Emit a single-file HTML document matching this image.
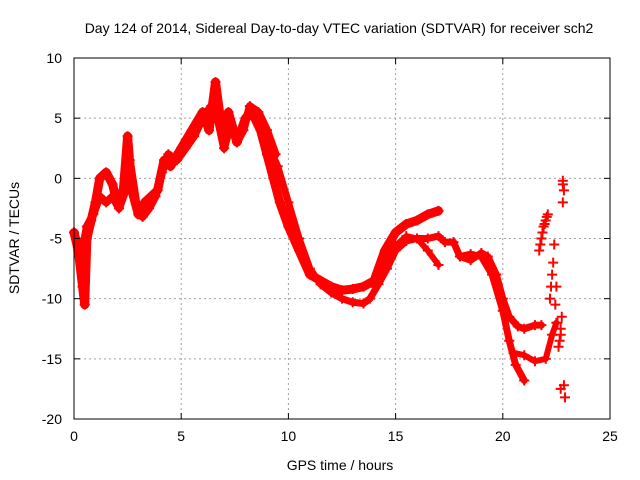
<!DOCTYPE html>
<html><head><meta charset="utf-8"><style>
body{margin:0;background:#fff}
svg{display:block;font-family:"Liberation Sans",sans-serif}
</style></head><body>
<svg id="chart" width="640" height="480" viewBox="0 0 640 480">
<rect width="640" height="480" fill="#fff"/>
<text x="339" y="33" font-size="14" text-anchor="middle">Day 124 of 2014, Sidereal Day-to-day VTEC variation (SDTVAR) for receiver sch2</text>
<text x="340" y="470" font-size="14" text-anchor="middle">GPS time / hours</text>
<text transform="translate(19,238) rotate(-90)" font-size="14" text-anchor="middle">SDTVAR / TECUs</text>
<g id="grid"></g>
<g id="marks"></g>
<rect x="74" y="58" width="536" height="361" fill="none" stroke="#000" stroke-width="1"/>
<g id="ticks"></g>
</svg>
<script>
const xTicks=[0,5,10,15,20,25];
const yTicks=[10,5,0,-5,-10,-15,-20];
const trackA_x=[0,0.2,0.4,0.5,0.6,0.8,1.0,1.2,1.5,1.8,2.0,2.3,2.5,2.7,3.0,3.3,3.6,3.9,4.2,4.5,5.0,5.5,6.0,6.3,6.6,6.9,7.2,7.6,8.0,8.3,8.7,9.0,9.3,9.6,10.0,10.5,11.0,11.5,12,12.5,13,13.5,14,14.5,15,15.5,16,16.5,17];
const trackA_y=[-4.5,-6,-9,-10.5,-5,-3.5,-2,0,0.5,-0.5,-2,-1,3.5,-1,-3,-2,-1.5,-1,1.5,1,2.5,4,5.5,4,8,4,5.5,3,5,5.5,4,2,0,-2,-4,-6,-8,-8.5,-9,-9.3,-9.2,-9,-8.5,-6,-4.5,-3.8,-3.5,-3,-2.7];
const trackF_x=[0.1,0.3,0.6,0.9,1.2,1.5,1.8,2.1,2.4,2.6,2.9,3.2,3.5,3.8,4.1,4.4,4.8,5.2,5.6,6.0,6.4,6.7,7.0,7.3,7.6,7.9,8.2,8.6,9.0,9.4];
const trackF_y=[-5,-7,-4,-3,-1.5,-2,-1.5,-2.5,-1,1.5,-2,-3.2,-2.5,-1.5,0.5,2,1.5,2.5,3.5,5,6,5,2.5,4.5,3,4,6,5.5,4,2];
const trackB_x=[8.5,9,9.5,10,10.5,11,11.5,12,12.5,13,13.5,13.8,14.2,14.6,15,15.5,16,16.5,17,17.3,17.7,18,18.5,19,19.3,19.7,20,20.3,20.7,21,21.5,21.8];
const trackB_y=[5,3,1,-2,-5,-7.5,-8.8,-9.5,-10,-10.3,-10.4,-10,-8.8,-7.5,-6,-5.2,-5,-5,-4.8,-5.3,-5.3,-6.5,-6.8,-6.2,-6.5,-8,-10,-11.5,-12.3,-12.5,-12.2,-12.2];
const trackC_x=[14,14.5,15,15.5,16,16.5,17];
const trackC_y=[-9,-7.2,-5.6,-4.8,-5,-6,-7.2];
const trackD_x=[18,18.5,19,19.5,20,20.3,20.6,21];
const trackD_y=[-6.5,-6.3,-6.5,-8,-11,-13.5,-15.5,-16.8];
const trackE_x=[20.5,21,21.5,22,22.3,22.5];
const trackE_y=[-14.5,-14.7,-15.2,-15,-13,-12];
const sparse_x=[21.7,21.75,21.8,21.85,21.9,21.95,22.0,22.05,22.1,22.2,22.25,22.3,22.35,22.4,22.45,22.5,22.55,22.6,22.65,22.7,22.7,22.75,22.8,22.8,22.85,22.8,22.9,22.85,22.7];
const sparse_y=[-6,-5.5,-5,-4.5,-4,-3.8,-3.5,-3.2,-3,-10,-9,-8,-7,-5.5,-10.5,-9,-12,-14,-13.5,-17.5,-13,-11.5,-0.5,-0.2,-1,-2,-18.2,-17.2,-12.5];

const X=v=>74+v*536/25;
const Y=v=>58+(10-v)*361/30;
const NS="http://www.w3.org/2000/svg";
const grid=document.getElementById('grid'),ticks=document.getElementById('ticks'),marks=document.getElementById('marks');
function mk(tag,attrs,parent){const e=document.createElementNS(NS,tag);for(const k in attrs)e.setAttribute(k,attrs[k]);parent.appendChild(e);return e;}
xTicks.forEach(t=>{
  if(t>0&&t<25){const g=mk('line',{x1:X(t),x2:X(t),y1:58,y2:419,stroke:'#a0a0a0','stroke-dasharray':'2,3'},grid);
  
  }
  mk('line',{x1:X(t),x2:X(t),y1:419,y2:413,stroke:'#000'},ticks);
  mk('line',{x1:X(t),x2:X(t),y1:58,y2:64,stroke:'#000'},ticks);
  const l=mk('text',{x:X(t),y:441,'font-size':14,'text-anchor':'middle'},ticks);l.textContent=t;
  
  
});
yTicks.forEach(t=>{
  if(t<10&&t>-20){const g=mk('line',{x1:74,x2:610,y1:Y(t),y2:Y(t),stroke:'#a0a0a0','stroke-dasharray':'2,3'},grid);
  
  }
  mk('line',{x1:74,x2:80,y1:Y(t),y2:Y(t),stroke:'#000'},ticks);
  mk('line',{x1:610,x2:604,y1:Y(t),y2:Y(t),stroke:'#000'},ticks);
  const l=mk('text',{x:62,y:Y(t)+5,'font-size':14,'text-anchor':'end'},ticks);l.textContent=t;
  
  
});
function track(xs,ys,name,w){
  const pts=xs.map((x,i)=>X(x)+','+Y(ys[i])).join(' ');
  const p=mk('polyline',{points:pts,fill:'none',stroke:'#f00','stroke-width':w,'stroke-linejoin':'round','stroke-linecap':'round'},marks);
  
  
  plus(xs,ys,name+'-point');
}
function plus(xs,ys,name){
  xs.forEach((x,i)=>{
    const cx=X(x),cy=Y(ys[i]);
    const m=mk('path',{d:`M${cx-5},${cy}H${cx+5}M${cx},${cy-5}V${cy+5}`,stroke:'#f00','stroke-width':2},marks);
    
    
  });
}
track(trackA_x,trackA_y,'track-a',9);
track(trackF_x,trackF_y,'track-f',8);
track(trackB_x,trackB_y,'track-b',7);
track(trackC_x,trackC_y,'track-c',6);
track(trackD_x,trackD_y,'track-d',7);
track(trackE_x,trackE_y,'track-e',6);
plus(sparse_x,sparse_y,'sparse-point');
</script>
</body></html>
